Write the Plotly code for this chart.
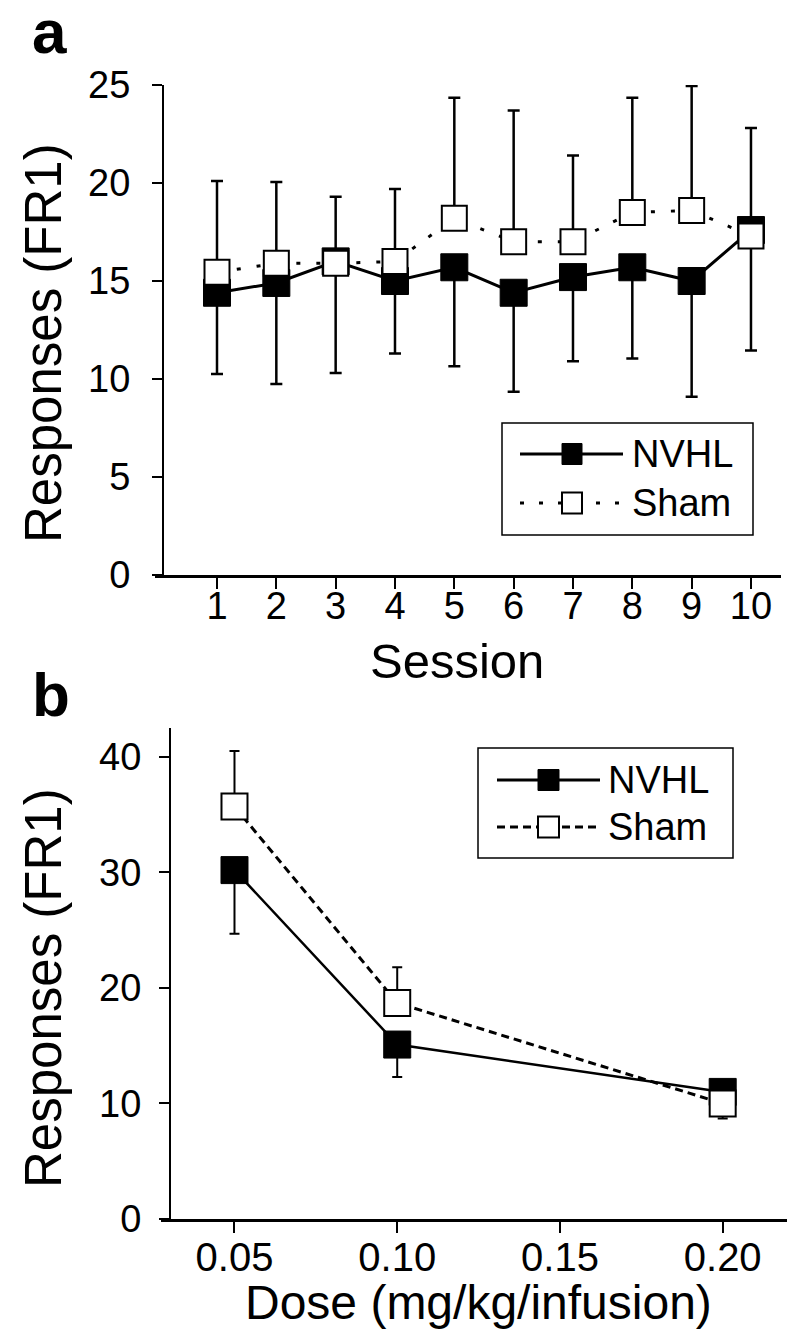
import plotly.graph_objects as go

# page body adds an 8px margin, so the figure is drawn 8px smaller and offset
OFF = 8
W, H = 800 - 2 * OFF, 1342 - 2 * OFF
FONT = "Liberation Sans, Arial, Helvetica, sans-serif"

# ---------------- data ----------------
sessions = [1, 2, 3, 4, 5, 6, 7, 8, 9, 10]
nvhl_a = [14.4, 14.9, 16.0, 15.0, 15.7, 14.4, 15.2, 15.7, 15.0, 17.6]
nvhl_a_err = [4.15, 5.15, 5.7, 3.7, 5.05, 5.05, 4.3, 4.65, 5.9, 6.15]
sham_a = [15.45, 15.9, 15.9, 16.0, 18.2, 17.0, 17.0, 18.5, 18.6, 17.3]
sham_a_err = [4.65, 4.15, 3.4, 3.7, 6.15, 6.7, 4.4, 5.85, 6.35, 5.5]

doses = [0.05, 0.10, 0.20]
dose_ticks = [0.05, 0.10, 0.15, 0.20]
dose_ticktext = ["0.05", "0.10", "0.15", "0.20"]
nvhl_b = [30.2, 15.1, 11.0]
nvhl_b_err = [5.5, 2.8, 2.3]
sham_b = [35.7, 18.7, 10.0]
sham_b_err = [4.8, 3.1, 0.4]


def px(x):
    return (x - OFF) / W


def py(y):
    return 1 - (y - OFF) / H


zeros_a = [0] * len(sessions)
zeros_b = [0] * len(doses)

fig = go.Figure()

# ---------------- panel a ----------------
fig.add_trace(go.Scatter(
    x=sessions, y=nvhl_a, mode="lines+markers", name="NVHL",
    line=dict(color="black", width=3),
    marker=dict(symbol="square", size=27, color="black", line=dict(color="black", width=1)),
    error_y=dict(type="data", symmetric=False, array=zeros_a, arrayminus=nvhl_a_err,
                 color="black", thickness=2.5, width=6),
    xaxis="x", yaxis="y", showlegend=False))
fig.add_trace(go.Scatter(
    x=sessions, y=sham_a, mode="lines+markers", name="Sham",
    line=dict(color="black", width=3, dash="4px,16px"),
    marker=dict(symbol="square", size=25, color="white", line=dict(color="black", width=2)),
    error_y=dict(type="data", symmetric=False, array=sham_a_err, arrayminus=zeros_a,
                 color="black", thickness=2.5, width=6),
    xaxis="x", yaxis="y", showlegend=False))

# ---------------- panel b ----------------
fig.add_trace(go.Scatter(
    x=doses, y=nvhl_b, mode="lines+markers", name="NVHL",
    line=dict(color="black", width=2.5),
    marker=dict(symbol="square", size=27, color="black", line=dict(color="black", width=1)),
    error_y=dict(type="data", symmetric=False, array=zeros_b, arrayminus=nvhl_b_err,
                 color="black", thickness=2, width=5),
    xaxis="x2", yaxis="y2", showlegend=False))
fig.add_trace(go.Scatter(
    x=doses, y=sham_b, mode="lines+markers", name="Sham",
    line=dict(color="black", width=3, dash="8px,5px"),
    marker=dict(symbol="square", size=26, color="white", line=dict(color="black", width=2)),
    error_y=dict(type="data", symmetric=False, array=sham_b_err, arrayminus=zeros_b,
                 color="black", thickness=2, width=5),
    xaxis="x2", yaxis="y2", showlegend=False))

tickfont = dict(family=FONT, size=38, color="black")
common_x = dict(showgrid=False, zeroline=False, showline=True, linecolor="black",
                ticks="outside", ticklen=11, tickwidth=2, tickcolor="black",
                fixedrange=True)
common_y = dict(showgrid=False, zeroline=False, showline=True, linecolor="black", linewidth=2,
                ticks="outside", ticklen=10, tickwidth=2, tickcolor="black",
                tickfont=tickfont, fixedrange=True, anchor="free")

fig.update_layout(
    width=W, height=H, margin=dict(l=0, r=0, t=0, b=0, autoexpand=False),
    paper_bgcolor="white", plot_bgcolor="white",
    font=dict(family=FONT, color="black"),
    xaxis=dict(domain=[px(155), px(781)], range=[-0.045, 10.506], tickvals=sessions,
               linewidth=3, anchor="y", ticklabelstandoff=-16, tickfont=tickfont, **common_x),
    yaxis=dict(domain=[py(575), py(85)], range=[0, 25], tickvals=[0, 5, 10, 15, 20, 25],
               position=px(163), ticklabelstandoff=14, **common_y),
    xaxis2=dict(domain=[px(161), px(787)], range=[0.02742, 0.21976], tickvals=dose_ticks,
                ticktext=dose_ticktext, linewidth=2.5, anchor="y2", ticklabelstandoff=-10,
                tickfont=dict(family=FONT, size=40, color="black"), **common_x),
    yaxis2=dict(domain=[py(1219), py(728)], range=[0, 42.5], tickvals=[0, 10, 20, 30, 40],
                position=px(170), ticklabelstandoff=10, **common_y),
)

ann = []
# panel labels
ann.append(dict(text="<b>a</b>", x=px(30), y=py(68), xref="paper", yref="paper",
                xanchor="left", yanchor="bottom", showarrow=False,
                font=dict(family=FONT, size=62, color="black")))
ann.append(dict(text="<b>b</b>", x=px(30), y=py(731), xref="paper", yref="paper",
                xanchor="left", yanchor="bottom", showarrow=False,
                font=dict(family=FONT, size=62, color="black")))
# axis titles
ann.append(dict(text="Responses (FR1)", x=px(43), y=py(343), xref="paper", yref="paper",
                textangle=-90, xanchor="center", yanchor="middle", showarrow=False,
                font=dict(family=FONT, size=51, color="black")))
ann.append(dict(text="Responses (FR1)", x=px(43), y=py(988), xref="paper", yref="paper",
                textangle=-90, xanchor="center", yanchor="middle", showarrow=False,
                font=dict(family=FONT, size=51, color="black")))
ann.append(dict(text="Session", x=px(457), y=py(661), xref="paper", yref="paper",
                xanchor="center", yanchor="middle", showarrow=False,
                font=dict(family=FONT, size=49, color="black")))
ann.append(dict(text="Dose (mg/kg/infusion)", x=px(479), y=py(1302), xref="paper", yref="paper",
                xanchor="center", yanchor="middle", showarrow=False,
                font=dict(family=FONT, size=48, color="black")))

shapes = []


def legend(box, rows, line_x, mark_x, text_x, solid_w, sham_dash, mark_h):
    x0, x1, y0, y1 = box
    shapes.append(dict(type="rect", xref="paper", yref="paper",
                       x0=px(x0), x1=px(x1), y0=py(y1), y1=py(y0),
                       line=dict(color="black", width=1.5), fillcolor="white"))
    (ny, sy) = rows
    shapes.append(dict(type="line", xref="paper", yref="paper",
                       x0=px(line_x[0]), x1=px(line_x[1]), y0=py(ny), y1=py(ny),
                       line=dict(color="black", width=solid_w)))
    shapes.append(dict(type="line", xref="paper", yref="paper",
                       x0=px(line_x[0]), x1=px(line_x[1]), y0=py(sy), y1=py(sy),
                       line=dict(color="black", width=3, dash=sham_dash)))
    shapes.append(dict(type="rect", xref="paper", yref="paper",
                       x0=px(mark_x[0]), x1=px(mark_x[1]), y0=py(ny + mark_h / 2), y1=py(ny - mark_h / 2),
                       line=dict(color="black", width=1), fillcolor="black"))
    shapes.append(dict(type="rect", xref="paper", yref="paper",
                       x0=px(mark_x[0]), x1=px(mark_x[1]), y0=py(sy + mark_h / 2), y1=py(sy - mark_h / 2),
                       line=dict(color="black", width=2), fillcolor="white"))
    for label, yy in (("NVHL", ny), ("Sham", sy)):
        ann.append(dict(text=label, x=px(text_x), y=py(yy), xref="paper", yref="paper",
                        xanchor="left", yanchor="middle", showarrow=False,
                        font=dict(family=FONT, size=38, color="black")))


legend((502, 753, 423, 535), (454, 503), (520, 623), (562, 582), 630, 3, "4px,15px", 21)
legend((478, 733, 748, 858), (780, 827), (497, 600), (538, 559), 606, 3, "8px,5px", 21)

fig.update_layout(annotations=ann, shapes=shapes)

fig.write_html("out.html")
